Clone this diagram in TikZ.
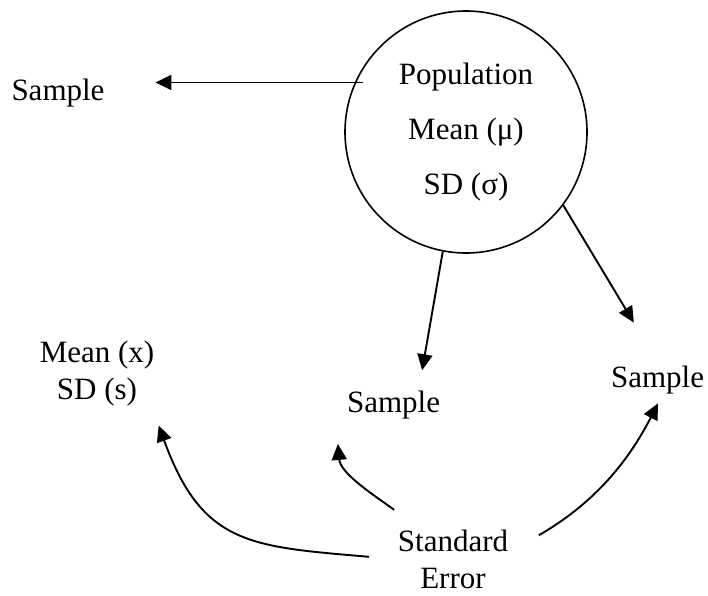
\documentclass[tikz,border=0pt]{standalone}
\usepackage{fontspec}
\setmainfont{Liberation Serif}
\usetikzlibrary{arrows.meta}

\begin{document}
\begin{tikzpicture}[x=1pt, y=-1pt, line width=1.9pt,
        every node/.style={font=\fontsize{31}{37}\selectfont, inner sep=3pt, align=center},
        arr/.style={-{Triangle[length=16pt,width=15pt]}}]
            \useasboundingbox (0,0) rectangle (708,595);

            \node (pop) [circle, draw, line width=1.6pt, minimum size=242pt, inner sep=0pt, font=\fontsize{31}{55}\selectfont] at (466,132) {Population\\Mean (μ)\\SD (σ)};
            \node (sampleL) at (58,93) {Sample};
            \node (sampleM) at (393.5,405) {Sample};
            \node (sampleR) at (657.5,380) {Sample};
            \node (stats) at (97,374) {Mean (x)\\SD (s)};
            \node (stderr) [font=\fontsize{31}{37}\selectfont] at (453,559) {Standard\\Error};

            \draw[arr, shorten <=-8pt, shorten >=47pt] (pop.156) -- (pop.156 -| sampleL.east);
            \draw[arr, shorten >=17pt] (pop.259) -- (sampleM.35);
            \draw[arr, shorten >=46pt] (pop.-37) -- (sampleR.north);

            \draw[arr, shorten <=25pt, shorten >=16pt] (stderr.west) to [out=175, in=-70, looseness=1.3] (stats.-33);
            \draw[arr, shorten <=27pt, shorten >=21pt] (stderr.138) to [out=144, in=-85] ([xshift=-7pt]sampleM.south west);
            \draw[arr, shorten <=31pt, shorten >=6pt] (stderr.8) to [out=30, in=-117] (sampleR.-80);
        \end{tikzpicture}
\end{document}
